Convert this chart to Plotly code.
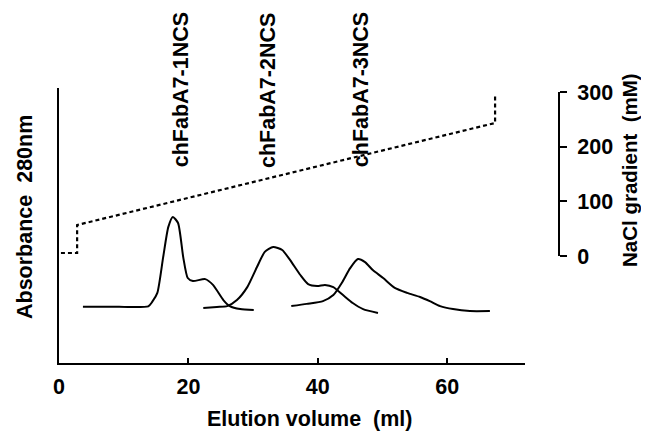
import plotly.graph_objects as go

# ---- data ----
# Absorbance curves (arbitrary units, 0 = x-axis, 1 = top of left axis)
c1_x = [3.7, 7.9, 13.8, 14.4, 15.2, 16.1, 16.9, 17.6, 18.4, 19.2, 19.9, 20.7, 22.6, 23.8, 25.4, 26.4, 28.0, 30.1]
c1_y = [0.205, 0.205, 0.206, 0.222, 0.255, 0.385, 0.495, 0.531, 0.509, 0.385, 0.309, 0.298, 0.305, 0.284, 0.229, 0.207, 0.196, 0.193]

c2_x = [22.3, 24.4, 26.0, 27.5, 29.1, 30.6, 31.8, 33.1, 34.5, 35.7, 37.3, 38.5, 39.9, 41.1, 42.4, 43.9, 45.4, 47.0, 49.3]
c2_y = [0.200, 0.204, 0.207, 0.229, 0.276, 0.349, 0.404, 0.422, 0.411, 0.375, 0.320, 0.287, 0.280, 0.284, 0.276, 0.247, 0.218, 0.196, 0.182]

c3_x = [35.9, 38.3, 40.8, 42.4, 43.7, 45.0, 46.2, 47.3, 48.5, 50.1, 51.9, 53.8, 55.8, 57.3, 58.9, 60.9, 63.5, 66.6]
c3_y = [0.207, 0.215, 0.225, 0.247, 0.291, 0.345, 0.378, 0.367, 0.338, 0.309, 0.273, 0.255, 0.240, 0.225, 0.207, 0.196, 0.189, 0.189]

# NaCl gradient (mM)
grad_x = [0.3, 2.8, 2.8, 67.4, 67.4]
grad_y = [5.5, 5.5, 56.7, 243.3, 294.5]

x_ticks = [0, 20, 40, 60]
nacl_ticks = [0, 100, 200, 300]
peak_labels = ["chFabA7-1NCS", "chFabA7-2NCS", "chFabA7-3NCS"]
peak_label_x = [18.9, 32.3, 46.7]

FONT = "Liberation Sans, Arial, sans-serif"
FS = 21.5

fig = go.Figure()
for cx, cy in [(c1_x, c1_y), (c2_x, c2_y), (c3_x, c3_y)]:
    fig.add_trace(go.Scatter(x=cx, y=cy, mode="lines",
                             line=dict(color="black", width=2, shape="spline", smoothing=0.6),
                             hoverinfo="skip", showlegend=False))

fig.add_trace(go.Scatter(x=grad_x, y=grad_y, mode="lines", yaxis="y2",
                         line=dict(color="black", width=2.2, dash="4px,3px"),
                         hoverinfo="skip", showlegend=False))

# page has an 8px body margin, so the figure is 8px smaller than the window
W, H = 641, 430
L, R, T, B = 51, 90, 80, 75
pw = W - L - R
ph = H - T - B
x_dom_end = 466.0 / pw          # x-axis line stops short of the right (NaCl) axis
xmax = 466.0 / 6.47

fig.update_layout(
    width=W, height=H,
    margin=dict(l=L, r=R, t=T, b=B, pad=0),
    paper_bgcolor="white", plot_bgcolor="white",
    font=dict(family=FONT, size=FS, color="black", weight="bold"),
    xaxis=dict(domain=[0, x_dom_end], range=[0, xmax], showgrid=False, zeroline=False,
               showline=True, linecolor="black", linewidth=2,
               ticks="inside", ticklen=5, tickwidth=2, tickcolor="black",
               tickvals=x_ticks, ticktext=[str(v) for v in x_ticks],
               ticklabelstandoff=3,
               tickfont=dict(family=FONT, size=FS, color="black", weight="bold")),
    yaxis=dict(range=[0, 1], showgrid=False, zeroline=False,
               showline=True, linecolor="black", linewidth=2,
               showticklabels=False, ticks=""),
    yaxis2=dict(range=[-195.7, 307.3], overlaying="y", side="right",
                anchor="free", position=1.0,
                showgrid=False, zeroline=False, showline=False,
                ticks="outside", ticklen=7, tickwidth=2, tickcolor="black",
                tickvals=nacl_ticks, ticktext=[str(v) for v in nacl_ticks],
                ticklabelstandoff=6,
                tickfont=dict(family=FONT, size=FS, color="black", weight="bold")),
)

# right axis line only spanning 0..300 mM
fig.add_shape(type="line", xref="paper", yref="y2", x0=1, x1=1, y0=0, y1=300,
              line=dict(color="black", width=2))

def py(ypage):
    return (H - B - (ypage - 8)) / ph

def px(xpage):
    return ((xpage - 8) - L) / pw

annos = []
for txt, lx in zip(peak_labels, peak_label_x):
    annos.append(dict(text=txt, x=lx, xref="x", y=py(90), yref="paper",
                      textangle=-90, showarrow=False, xanchor="center", yanchor="middle",
                      font=dict(family=FONT, size=FS, color="black", weight="bold")))
annos.append(dict(text="Absorbance\u00a0\u00a0280nm", x=px(25), xref="paper", y=py(217), yref="paper",
                  textangle=-90, showarrow=False, xanchor="center", yanchor="middle",
                  font=dict(family=FONT, size=FS, color="black", weight="bold")))
annos.append(dict(text="NaCl\u00a0gradient\u00a0\u00a0(mM)", x=px(629), xref="paper", y=py(170), yref="paper",
                  textangle=-90, showarrow=False, xanchor="center", yanchor="middle",
                  font=dict(family=FONT, size=20.5, color="black", weight="bold")))
annos.append(dict(text="Elution volume\u00a0\u00a0(ml)", x=px(309), xref="paper", y=py(419), yref="paper",
                  showarrow=False, xanchor="center", yanchor="middle",
                  font=dict(family=FONT, size=FS, color="black", weight="bold")))
fig.update_layout(annotations=annos)

fig.write_html("out.html")
